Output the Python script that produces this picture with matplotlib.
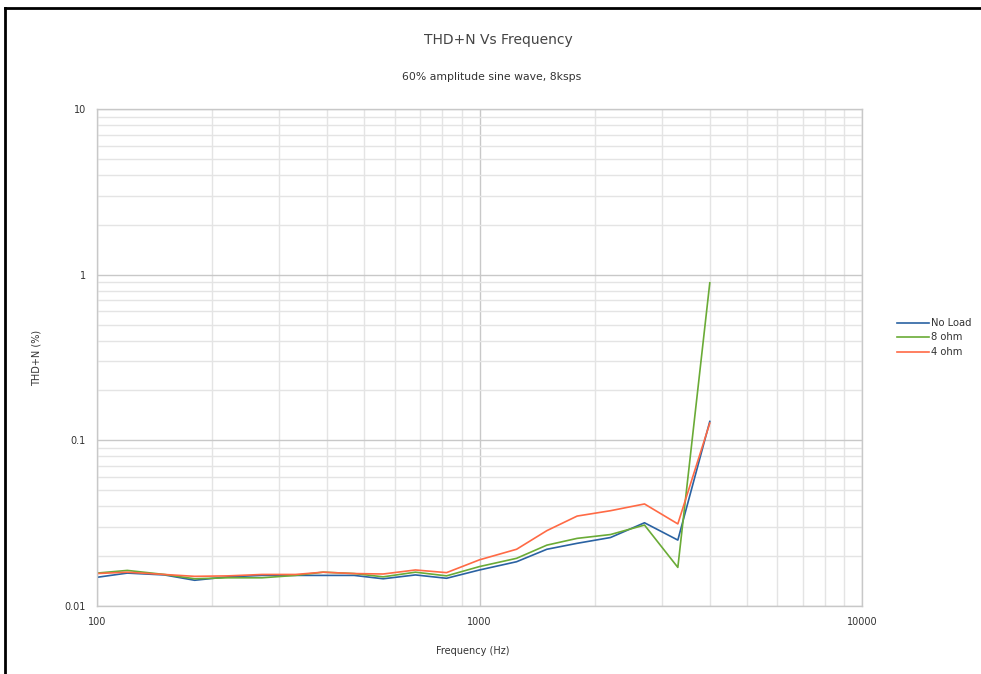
import matplotlib
matplotlib.use("Agg")
import matplotlib.pyplot as plt
from matplotlib.lines import Line2D
from matplotlib.ticker import LogLocator, NullFormatter, FixedLocator, FixedFormatter

freqs = [100, 120, 150, 180, 220, 270, 330, 390, 470, 560, 680, 820, 1000,
         1250, 1500, 1800, 2200, 2700, 3300, 4000]
no_load = [0.0149, 0.0158, 0.0154, 0.0143, 0.0150, 0.0153, 0.0153, 0.0153, 0.0153, 0.0146,
           0.0154, 0.0147, 0.0165, 0.0185, 0.0220, 0.0239, 0.0259, 0.0318, 0.0250, 0.130]
ohm8 = [0.0158, 0.0164, 0.0155, 0.0146, 0.0148, 0.0148, 0.0153, 0.0160, 0.0157, 0.0150,
        0.0160, 0.0152, 0.0173, 0.0194, 0.0233, 0.0256, 0.0270, 0.0308, 0.0171, 0.893]
ohm4 = [0.0157, 0.0160, 0.0155, 0.0151, 0.0152, 0.0155, 0.0155, 0.0160, 0.0157, 0.0156,
        0.0165, 0.0159, 0.0190, 0.0220, 0.0285, 0.0349, 0.0376, 0.0413, 0.0313, 0.127]
series_names = ["No Load", "8 ohm", "4 ohm"]
x_ticks = [100, 1000, 10000]
x_labels = ["100", "1000", "10000"]
y_ticks = [0.01, 0.1, 1, 10]
y_labels = ["0.01", "0.1", "1", "10"]

plt.rcParams['font.family'] = ['DejaVu Sans']
fig = plt.figure(figsize=(9.81, 6.74), dpi=100)
ax = fig.add_axes([97/981, 1-606/674, (862-97)/981, (606-109)/674])

colors = ['#2a62a2', '#6aab36', '#ff6a45']
for data, name, c in zip([no_load, ohm8, ohm4], series_names, colors):
    ax.plot(freqs, data, color=c, lw=1.2, label=name)

ax.set_xscale('log')
ax.set_yscale('log')
ax.set_xlim(100, 10000)
ax.set_ylim(0.01, 10)
ax.xaxis.set_major_locator(FixedLocator(x_ticks))
ax.xaxis.set_major_formatter(FixedFormatter(x_labels))
ax.yaxis.set_major_locator(FixedLocator(y_ticks))
ax.yaxis.set_major_formatter(FixedFormatter(y_labels))
ax.xaxis.set_minor_locator(LogLocator(base=10, subs=range(2, 10)))
ax.yaxis.set_minor_locator(LogLocator(base=10, subs=range(2, 10)))
ax.xaxis.set_minor_formatter(NullFormatter())
ax.yaxis.set_minor_formatter(NullFormatter())
ax.grid(which='major', color='#c8c8c8', lw=1.0)
ax.grid(which='minor', color='#e4e4e4', lw=1.0)
ax.set_axisbelow(True)
ax.tick_params(which='both', length=0, labelsize=7, colors='#333333', pad=8)
for s in ax.spines.values():
    s.set_color('#c8c8c8')
    s.set_linewidth(1.0)

ax.set_xlabel("Frequency (Hz)", fontsize=7, color='#333333')
ax.set_ylabel("THD+N (%)", fontsize=7, color='#333333')
ax.xaxis.set_label_coords((473-97)/765, -(646-606)/497)
ax.yaxis.set_label_coords(-(97-42)/765, 0.5)

fig.text(498/981, 1-40/674, "THD+N Vs Frequency", fontsize=10, color='#444444',
         ha='center', va='center')
fig.text(492/981, 1-77/674, "60% amplitude sine wave, 8ksps", fontsize=7.8, color='#333333',
         ha='center', va='center')

leg = fig.legend(loc='upper left', bbox_to_anchor=(897/981, 1-318/674), frameon=False,
                 fontsize=7.2, handlelength=3.2, handletextpad=0.2, labelspacing=0.45,
                 borderaxespad=0, borderpad=0)
for t in leg.get_texts():
    t.set_color('#333333')

fig.add_artist(Line2D([5/981, 1], [1-8/674, 1-8/674], color='black', lw=2,
                      transform=fig.transFigure))
fig.add_artist(Line2D([5/981, 5/981], [0, 1-8/674], color='black', lw=2,
                      transform=fig.transFigure))

fig.savefig("out.png", dpi=100)
